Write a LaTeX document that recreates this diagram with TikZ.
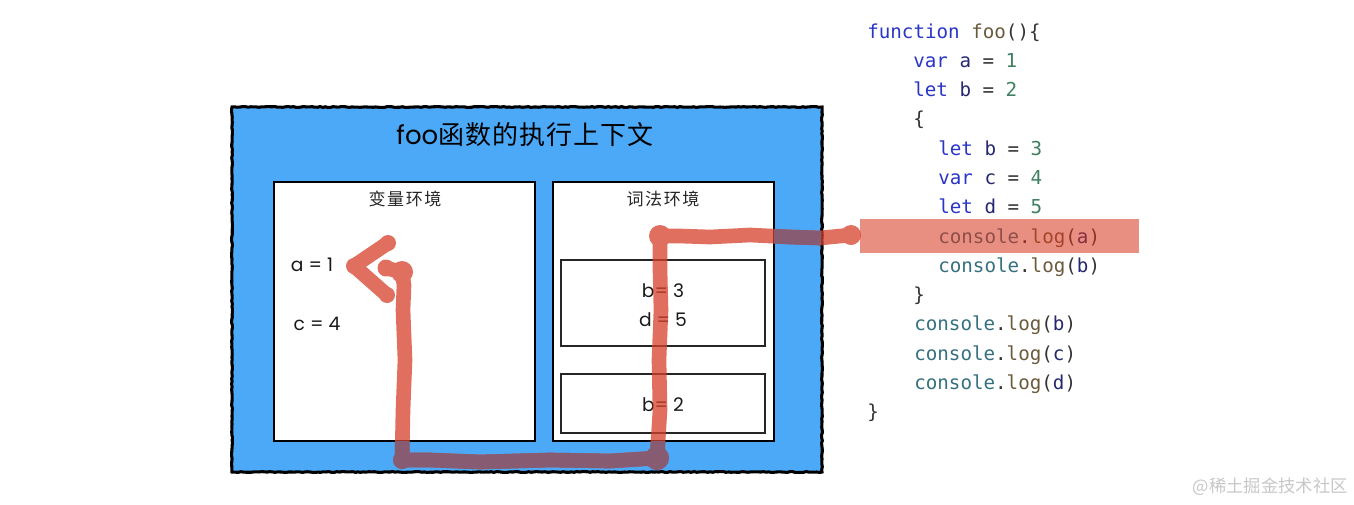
\documentclass[tikz,border=0pt]{standalone}
\usepackage{fontspec}
\usetikzlibrary{decorations.pathmorphing}
\setmainfont{Poppins}
\newfontfamily\cjk{Noto Sans CJK SC}
\newfontfamily\codefont{DejaVu Sans Mono}
\definecolor{skyfill}{HTML}{4BA9F8}
\definecolor{kw}{HTML}{2A35C8}
\definecolor{fn}{HTML}{6B5A3C}
\definecolor{vn}{HTML}{25286F}
\definecolor{num}{HTML}{3F8060}
\definecolor{obj}{HTML}{36707F}
\definecolor{txt}{HTML}{333333}
\definecolor{trail}{HTML}{D6402A}
\definecolor{traildark}{HTML}{875B72}
\definecolor{hilite}{HTML}{D7331C}
\newcommand{\K}[1]{\textcolor{kw}{#1}}
\newcommand{\F}[1]{\textcolor{fn}{#1}}
\newcommand{\V}[1]{\textcolor{vn}{#1}}
\newcommand{\N}[1]{\textcolor{num}{#1}}
\newcommand{\C}[1]{\textcolor{obj}{#1}}
\newcommand{\logline}[1]{\C{console}.\F{log}(\V{#1})}
\newcommand{\trailpath}{
  (tail) -- (820,238) -- (790,237) -- (750,235) -- (710,237) -- (680,236) -- (topcorner)
  -- (660,270) -- (661,310) -- (659,360) -- (660,410) -- (botright)
  -- (610,461) -- (550,460) -- (480,462) -- (430,460) -- (botleft)
  -- (403,410) -- (405,360) -- (403,310) -- (404,285) -- (hook) -- (hookend)
  (headtop) -- (headtip) -- (headbot)
}
\tikzset{
  x=0.75pt,y=-0.75pt,
  innerbox/.style={draw=black,line width=1.5pt,fill=white},
  subbox/.style={draw=black!85,line width=1.4pt,fill=white},
  hand/.style={inner sep=0pt,text=black!90,font=\fontsize{14}{16}\selectfont},
  paneltitle/.style={inner sep=0pt,text=black!85,font=\cjk\fontsize{12.8}{14}\selectfont},
  codeline/.style={anchor=base west,inner sep=0pt,text=txt,font=\codefont\fontsize{14.4}{16}\selectfont},
  trailline/.style={line width=11pt,line cap=round,line join=round},
}
\begin{document}
\begin{tikzpicture}
\useasboundingbox (0,0) rectangle (1354,504);
% outer panel
\pgfmathsetseed{7}
\fill[skyfill] (232,107) rectangle (822,472);
\draw[black,line width=2.3pt,decorate,decoration={random steps,segment length=2pt,amplitude=0.35pt}]
  (232,107) -- (822,107) -- (822,472) -- (232,472) -- cycle;
\node[inner sep=0pt,text=black,font=\fontsize{19.5}{22}\selectfont] (title) at (525,135)
  {foo{\cjk\addfontfeature{LetterSpace=4}函数的执行上下文}};
% inner panels
\path[innerbox] (274,182) rectangle (535,441);
\path[innerbox] (553,182) rectangle (774,441);
\path[subbox] (561,260) rectangle (765,346);
\path[subbox] (561,374) rectangle (765,433);
\node[paneltitle] (vartitle) at (405,199) {\addfontfeature{LetterSpace=9}变量环境};
\node[paneltitle] (lextitle) at (663,199) {\addfontfeature{LetterSpace=9}词法环境};
\node[hand] (a) at (312,265) {a = 1};
\node[hand] (c) at (317,324) {c = 4};
\node[hand] (b3) at (663,291) {b= 3};
\node[hand] (d5) at (663,320) {d = 5};
\node[hand] (b2) at (663,405) {b= 2};
% code
\node[codeline] (l1) at (867,38) {\K{function} \F{foo}()\{};
\node[codeline] (l2) at (913,67) {\K{var} \V{a} = \N{1}};
\node[codeline] (l3) at (913,96) {\K{let} \V{b} = \N{2}};
\node[codeline] (l4) at (913,125) {\{};
\node[codeline] (l5) at (938,155) {\K{let} \V{b} = \N{3}};
\node[codeline] (l6) at (938,184) {\K{var} \V{c} = \N{4}};
\node[codeline] (l7) at (938,213) {\K{let} \V{d} = \N{5}};
\node[codeline] (l8) at (938,243) {\logline{a}};
\node[codeline] (l9) at (938,272) {\logline{b}};
\node[codeline] (l10) at (913,301) {\}};
\node[codeline] (l11) at (914,330) {\logline{b}};
\node[codeline] (l12) at (914,360) {\logline{c}};
\node[codeline] (l13) at (914,389) {\logline{d}};
\node[codeline] (l14) at (867,418) {\}};
\fill[hilite,opacity=0.55] (860,219) rectangle (1139,253);
% trail
\coordinate (tail) at (851,235);
\coordinate (topcorner) at (660,236);
\coordinate (botright) at (657,458);
\coordinate (botleft) at (402,460);
\coordinate (hook) at (402,272);
\coordinate (hookend) at (386,268);
\coordinate (headtop) at (388,243);
\coordinate (headtip) at (354,266);
\coordinate (headbot) at (387,295);
\begin{scope}[transparency group,opacity=0.75]
  \draw[trail,trailline] \trailpath;
  \fill[trail] (tail) circle (10);
  \fill[trail] (topcorner) circle (11);
  \fill[trail] (botright) circle (12);
  \fill[trail] (hook) circle (11);
  \fill[trail] (hookend) circle (8.5);
  \fill[trail] (headtop) circle (8);
  \fill[trail] (headbot) circle (8);
  \fill[trail] (headtip) circle (8);
  \fill[trail] (botleft) circle (9);
\end{scope}
\begin{scope}[even odd rule]
  \clip (233,108) rectangle (821,471)
    (274,182) rectangle (535,441)
    (553,182) rectangle (774,441);
  \draw[traildark,trailline] \trailpath;
  \fill[traildark] (botright) circle (12);
  \fill[traildark] (botleft) circle (9);
\end{scope}
% watermark
\node[inner sep=0pt,anchor=east,text=black!22,font=\cjk\fontsize{13}{15}\selectfont] (mark) at (1348,487) {@稀土掘金技术社区};
\end{tikzpicture}
\end{document}
